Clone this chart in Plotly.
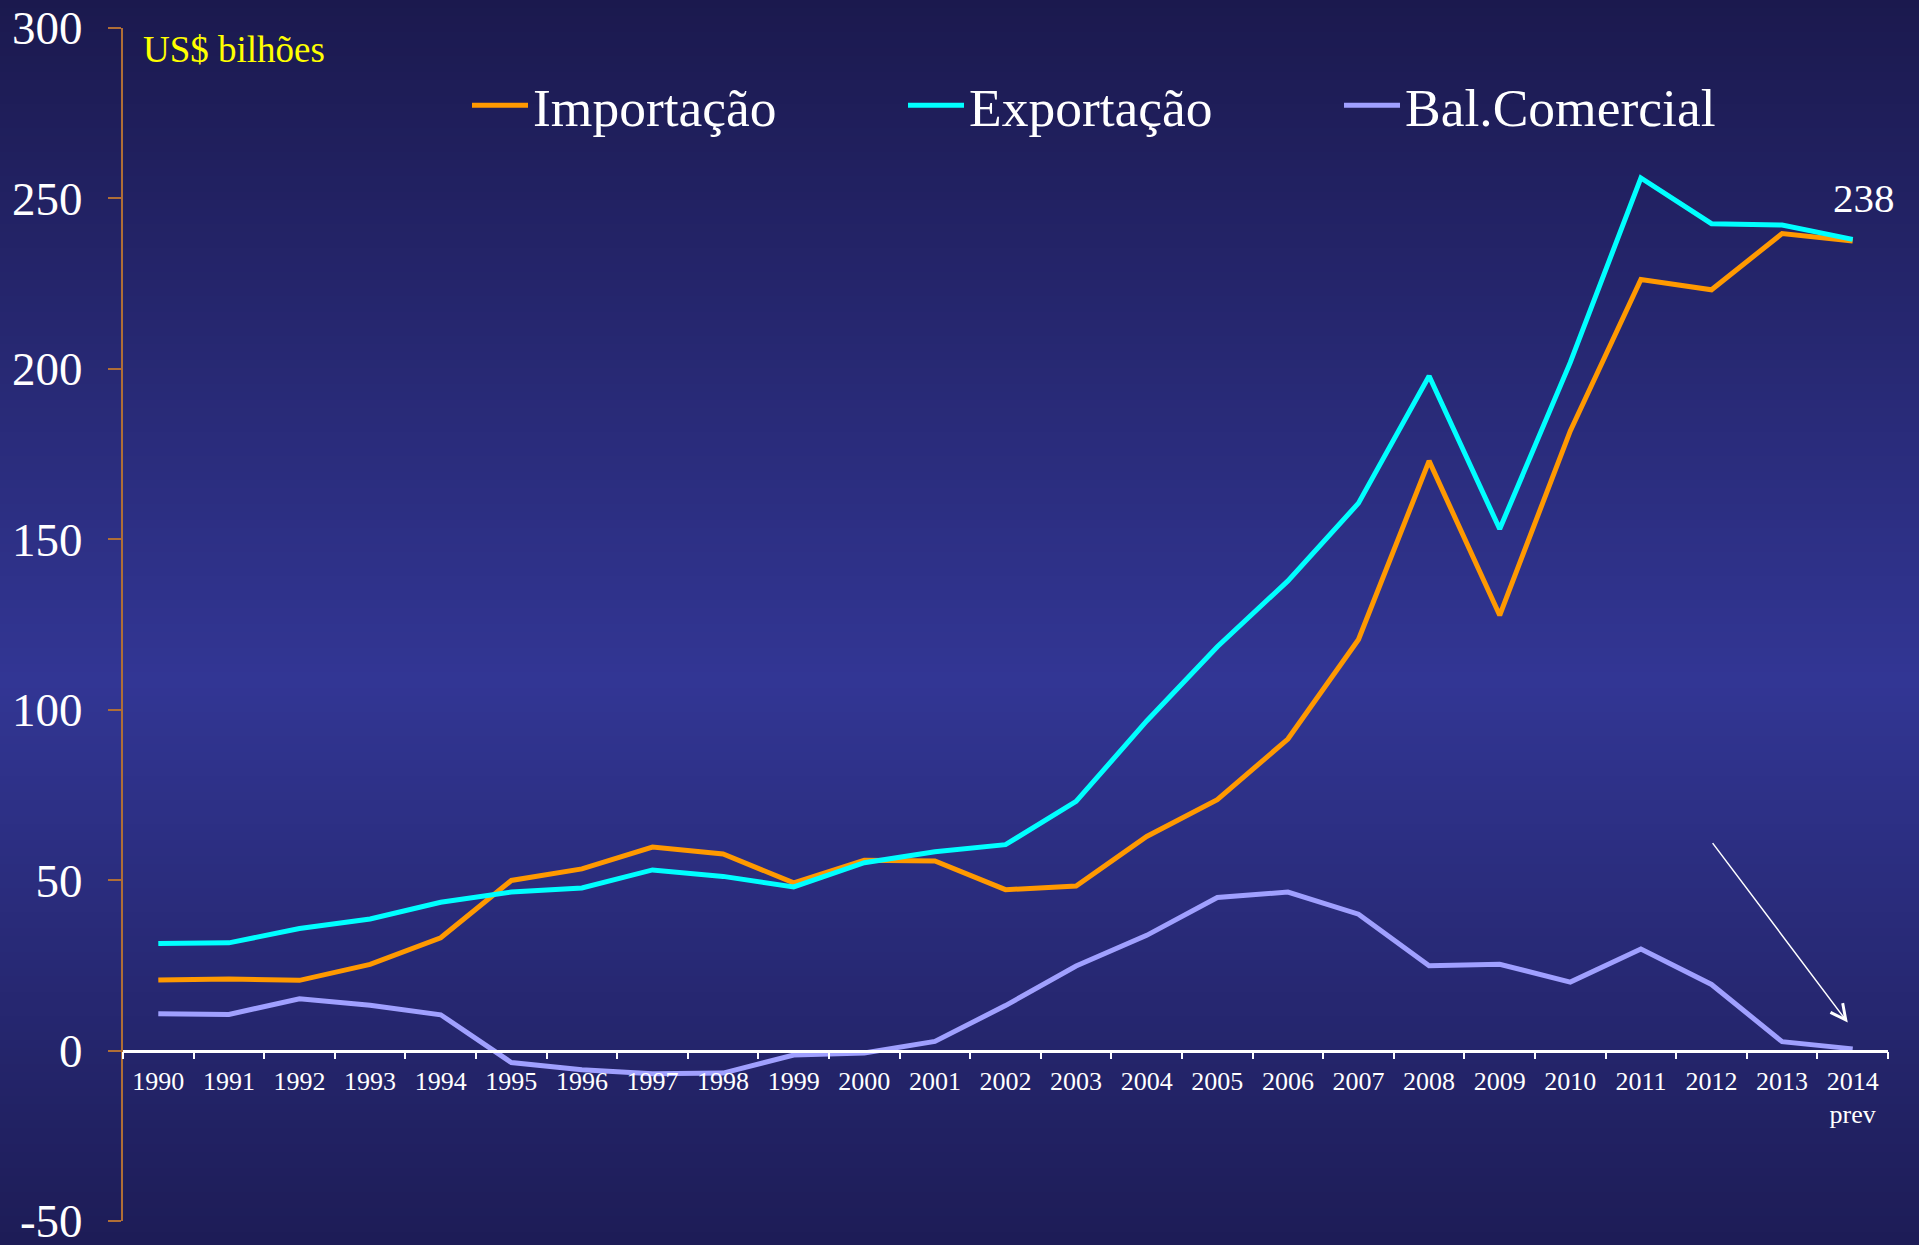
import plotly.graph_objects as go

anos = [str(a) for a in range(1990, 2015)]
rotulos_x = anos[:-1] + ["2014<br>prev"]

importacao = [20.7, 21.0, 20.6, 25.3, 33.1, 49.9, 53.3, 59.7, 57.7, 49.2, 55.8, 55.6, 47.2,
              48.3, 62.8, 73.6, 91.4, 120.6, 173.0, 127.7, 181.8, 226.2, 223.2, 239.7, 237.5]
exportacao = [31.4, 31.6, 35.8, 38.6, 43.5, 46.5, 47.7, 53.0, 51.1, 48.0, 55.1, 58.3, 60.4,
              73.1, 96.7, 118.5, 137.8, 160.6, 197.9, 153.0, 201.9, 256.0, 242.6, 242.2, 238.0]
saldo = [10.8, 10.6, 15.2, 13.3, 10.5, -3.5, -5.6, -6.8, -6.6, -1.3, -0.7, 2.7, 13.2,
         24.8, 33.8, 44.9, 46.5, 40.0, 24.9, 25.3, 20.1, 29.8, 19.4, 2.6, 0.5]

y_ticks = [-50, 0, 50, 100, 150, 200, 250, 300]

FONTE = "Liberation Serif, Times New Roman, serif"
W, H = 1919, 1245
M_L, M_R, M_T, M_B = 123, 31, 28, 24
plot_w = W - M_L - M_R
plot_h = H - M_T - M_B


def cor_fundo(py):
    # gradiente vertical: escuro no topo, mais claro ao meio, escuro embaixo
    topo, meio, base = (27, 25, 78), (50, 54, 148), (29, 28, 86)
    ym = 680
    if py <= ym:
        t = py / ym
        a, b = topo, meio
    else:
        t = (py - ym) / (H - ym)
        a, b = meio, base
    return "rgb(%d,%d,%d)" % tuple(round(a[i] + (b[i] - a[i]) * t) for i in range(3))


faixas = []
passo = 8
for py in range(0, H, passo):
    faixas.append(dict(
        type="rect", xref="paper", yref="paper", layer="below",
        x0=-M_L / plot_w, x1=(W - M_L) / plot_w,
        y0=(H - M_B - py - passo) / plot_h, y1=(H - M_B - py) / plot_h,
        fillcolor=cor_fundo(py + passo / 2), line=dict(width=0),
    ))

fig = go.Figure()
fig.add_trace(go.Scatter(x=anos, y=importacao, name="Importação", mode="lines",
                         line=dict(color="#ff9900", width=5)))
fig.add_trace(go.Scatter(x=anos, y=exportacao, name="Exportação", mode="lines",
                         line=dict(color="#00ffff", width=5)))
fig.add_trace(go.Scatter(x=anos, y=saldo, name="Bal.Comercial", mode="lines",
                         line=dict(color="#a0a0ff", width=5)))

fig.update_layout(
    width=W, height=H,
    margin=dict(l=M_L, r=M_R, t=M_T, b=M_B, autoexpand=False),
    paper_bgcolor="#2a2c78",
    plot_bgcolor="rgba(0,0,0,0)",
    font=dict(family=FONTE, color="white"),
    shapes=faixas,
    showlegend=True,
    legend=dict(
        orientation="h", xref="paper", yref="paper",
        x=(467 - M_L) / plot_w, xanchor="left",
        y=(H - M_B - 64) / plot_h, yanchor="top",
        font=dict(family=FONTE, size=53.5, color="white"),
        bgcolor="rgba(0,0,0,0)", itemwidth=56,
        entrywidth=365, entrywidthmode="pixels",
    ),
    xaxis=dict(
        type="category", categoryorder="array", categoryarray=anos,
        range=[-0.5, 24.5], anchor="free", position=50 / 350, automargin=False,
        tickmode="array", tickvals=anos, ticktext=rotulos_x,
        tickson="boundaries", ticks="outside", ticklen=7, tickwidth=2, tickcolor="white",
        showline=True, linecolor="white", linewidth=2.5,
        showgrid=False, zeroline=False,
        tickfont=dict(family=FONTE, size=26, color="white"),
        ticklabelstandoff=6,
    ),
    yaxis=dict(
        range=[-50, 300], domain=[0, 1], automargin=False,
        tickmode="array", tickvals=y_ticks, ticktext=[str(v) for v in y_ticks],
        ticks="outside", ticklen=13, tickwidth=2, tickcolor="#b06e36",
        showline=True, linecolor="#b06e36", linewidth=2,
        showgrid=False, zeroline=False, ticklabeloverflow="allow",
        tickfont=dict(family=FONTE, size=47, color="white"),
        ticklabelstandoff=16,
    ),
    annotations=[
        dict(text="US$ bilhões", xref="paper", yref="paper",
             x=(141 - M_L) / plot_w, y=(H - M_B - 50) / plot_h,
             xanchor="left", yanchor="middle", showarrow=False,
             font=dict(family=FONTE, size=37, color="#ffff00")),
        dict(text="238", xref="x", yref="y", x=24, y=250, xshift=11,
             showarrow=False, font=dict(family=FONTE, size=41, color="white")),
        dict(text="", xref="x", yref="y", x=23.93, y=8.2,
             axref="x", ayref="y", ax=22.0, ay=61.3,
             showarrow=True, arrowhead=5, arrowsize=2, arrowwidth=1.5,
             arrowcolor="white", standoff=0),
    ],
)

fig.write_html("out.html", config={"displayModeBar": False},
               post_script="document.body.style.margin='0';")
